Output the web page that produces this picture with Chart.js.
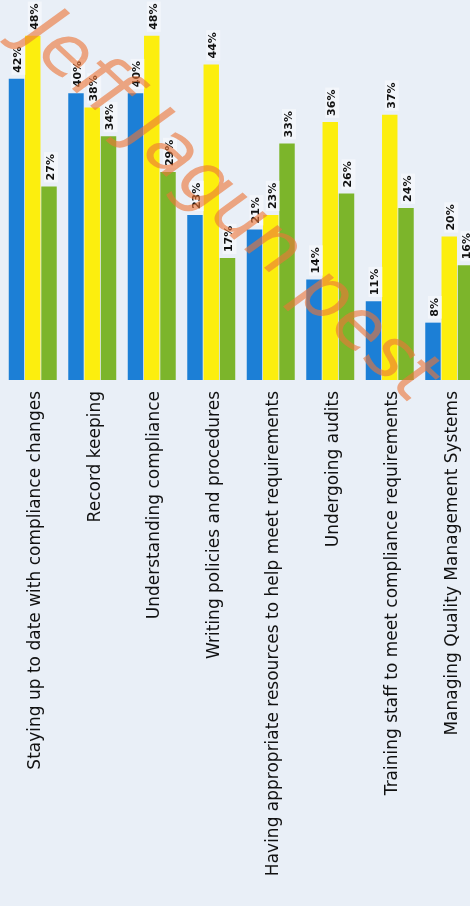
<!DOCTYPE html>
<html lang="en">
<head>
    <meta charset="UTF-8">
    <title>Compliance Challenges</title>
    <meta name="viewport" content="width=device-width, initial-scale=1.0">
    <script src="https://cdn.jsdelivr.net/npm/chart.js"></script>
    <style>
        html, body {
            margin: 0;
            padding: 0;
            overflow: hidden;
            background-color: #e9eff7;
        }
        .chart-box {
            position: relative;
            width: 479px;
            height: 906px;
        }
    </style>
</head>

<body>

<div class="chart-box">
    <canvas id="challengesChart"></canvas>
</div>

<script>
    const categories = [
        'Staying up to date with compliance changes',
        'Record keeping',
        'Understanding compliance',
        'Writing policies and procedures',
        'Having appropriate resources to help meet requirements',
        'Undergoing audits',
        'Training staff to meet compliance requirements',
        'Managing Quality Management Systems'
    ];
    const blueValues = [42, 40, 40, 23, 21, 14, 11, 8];
    const yellowValues = [48, 38, 48, 44, 23, 36, 37, 20];
    const greenValues = [27, 34, 29, 17, 33, 26, 24, 16];

    const watermarkText = 'Jeff Jagun pest';

    // percent labels standing on top of each bar, turned to read upwards
    const valueLabels = {
        id: 'valueLabels',
        afterDatasetsDraw(chart) {
            const ctx = chart.ctx;
            ctx.save();
            ctx.font = 'bold 11px "DejaVu Sans"';
            ctx.textBaseline = 'middle';
            chart.data.datasets.forEach((ds, i) => {
                chart.getDatasetMeta(i).data.forEach((bar, j) => {
                    const text = ds.data[j] + '%';
                    const w = ctx.measureText(text).width;
                    ctx.save();
                    ctx.translate(bar.x + 2, bar.y - 6);
                    ctx.rotate(-Math.PI / 2);
                    ctx.fillStyle = 'rgba(255, 255, 255, .45)';
                    ctx.fillRect(-2, -7, w + 4, 14);
                    ctx.fillStyle = '#111';
                    ctx.fillText(text, 0, 0);
                    ctx.restore();
                });
            });
            ctx.restore();
        }
    };

    // orange handwritten stamp across the whole chart
    const watermark = {
        id: 'watermark',
        afterDraw(chart) {
            const ctx = chart.ctx;
            ctx.save();
            ctx.translate(228, 208);
            ctx.rotate(43 * Math.PI / 180);
            ctx.font = 'italic 74px "DejaVu Sans"';
            ctx.textAlign = 'center';
            ctx.textBaseline = 'middle';
            ctx.fillStyle = 'rgba(236, 118, 56, .62)';
            ctx.fillText(watermarkText, 0, 0);
            ctx.restore();
        }
    };

    new Chart(document.getElementById('challengesChart'), {
        type: 'bar',
        data: {
            labels: categories,
            datasets: [
                { data: blueValues, backgroundColor: '#1c7fd6' },
                { data: yellowValues, backgroundColor: '#fcee0e' },
                { data: greenValues, backgroundColor: '#7cb52b' }
            ]
        },
        options: {
            responsive: true,
            maintainAspectRatio: false,
            animation: false,
            categoryPercentage: 0.82,
            barPercentage: 0.95,
            layout: {
                padding: { left: 3, right: 0, top: 0, bottom: 0 }
            },
            scales: {
                x: {
                    grid: { display: false },
                    border: { display: false },
                    afterFit(scale) {
                        scale.height = 526;
                    },
                    ticks: {
                        autoSkip: false,
                        minRotation: 90,
                        maxRotation: 90,
                        padding: 3,
                        labelOffset: 3,
                        color: '#111',
                        font: { family: 'DejaVu Sans', size: 17 }
                    }
                },
                y: {
                    display: false,
                    min: 0,
                    max: 53
                }
            },
            plugins: {
                legend: { display: false },
                tooltip: { enabled: false }
            }
        },
        plugins: [valueLabels, watermark]
    });
</script>

</body>
</html>
